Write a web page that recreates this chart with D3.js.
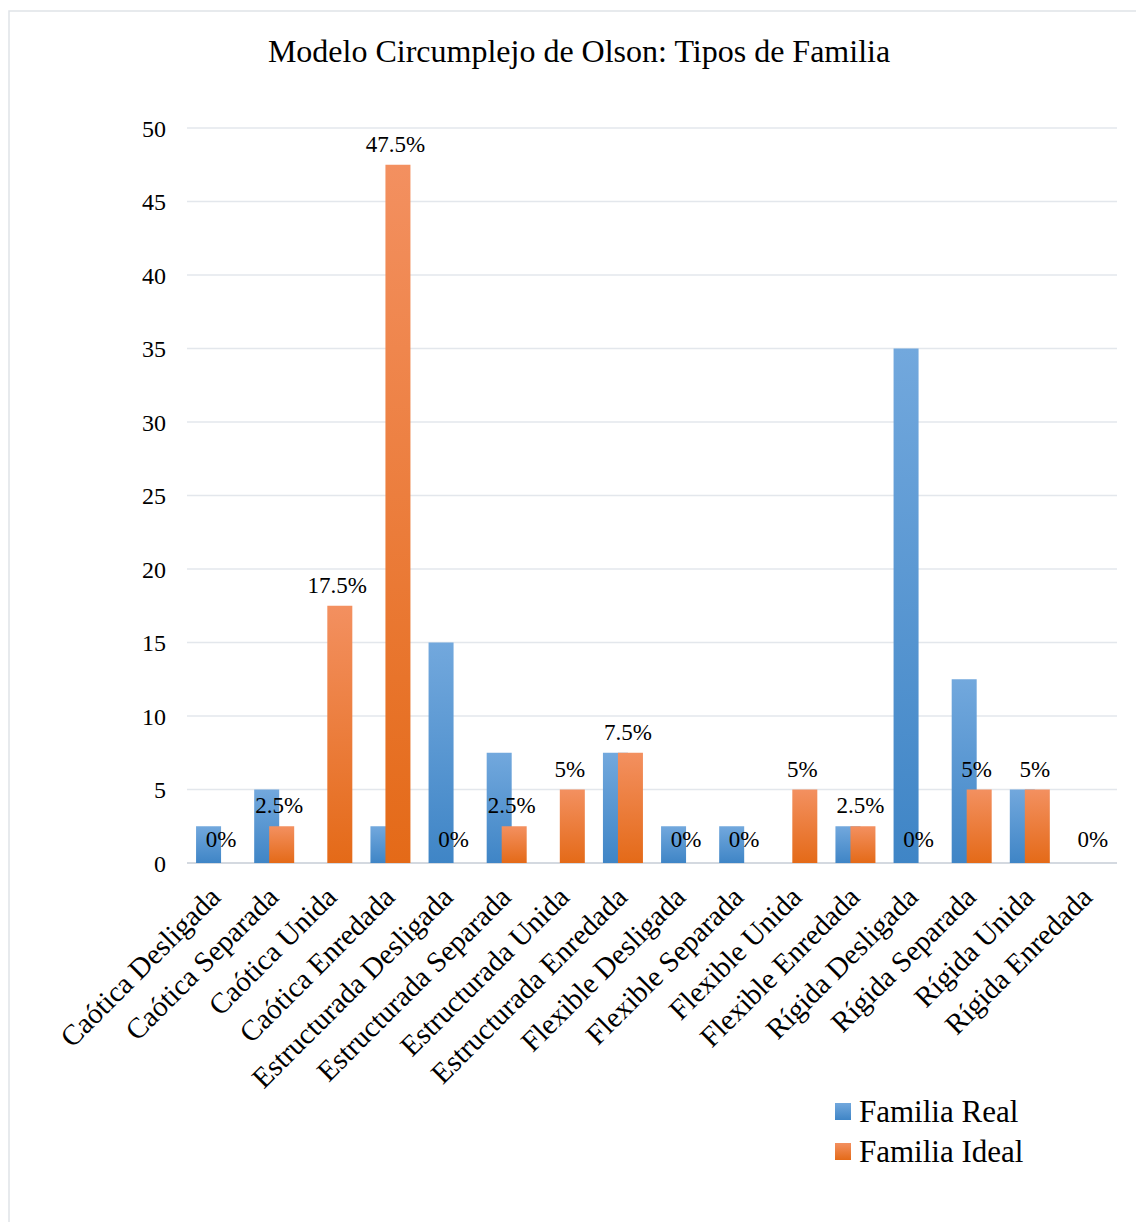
<!DOCTYPE html>
<html>
<head>
<meta charset="utf-8">
<script src="https://cdn.jsdelivr.net/npm/d3@7"></script>
<style>
  html, body { margin: 0; padding: 0; background: #ffffff; }
  svg { display: block; }
  text { font-family: "Liberation Serif", "Times New Roman", serif; fill: #000; }
</style>
</head>
<body>
<script>
// Family types of the Olson circumplex model
const categories = [
  "Caótica Desligada", "Caótica Separada", "Caótica Unida", "Caótica Enredada",
  "Estructurada Desligada", "Estructurada Separada", "Estructurada Unida", "Estructurada Enredada",
  "Flexible Desligada", "Flexible Separada", "Flexible Unida", "Flexible Enredada",
  "Rígida Desligada", "Rígida Separada", "Rígida Unida", "Rígida Enredada"
];
const realValues  = [2.5, 5, 0, 2.5, 15, 7.5, 0, 7.5, 2.5, 2.5, 0, 2.5, 35, 12.5, 5, 0];
const idealValues = [0, 2.5, 17.5, 47.5, 0, 2.5, 5, 7.5, 0, 0, 5, 2.5, 0, 5, 5, 0];
const yTicks = [0, 5, 10, 15, 20, 25, 30, 35, 40, 45, 50];
const seriesNames = ["Familia Real", "Familia Ideal"];
const title = "Modelo Circumplejo de Olson: Tipos de Familia";

const W = 1136, H = 1222;
const plot = { left: 187, right: 1117, top: 128, bottom: 863 };
const barW = 25;

const svg = d3.select("body").append("svg").attr("width", W).attr("height", H);

// gradients for the two series
const defs = svg.append("defs");
function grad(id, top, bottom) {
  const g = defs.append("linearGradient").attr("id", id)
    .attr("x1", 0).attr("y1", 0).attr("x2", 0).attr("y2", 1);
  g.append("stop").attr("offset", "0%").attr("stop-color", top);
  g.append("stop").attr("offset", "100%").attr("stop-color", bottom);
}
grad("gReal", "#72a8dd", "#3f85c6");
grad("gIdeal", "#f39060", "#e46a18");

// chart border
svg.append("rect").attr("x", 9).attr("y", 11).attr("width", W).attr("height", H)
  .attr("fill", "none").attr("stroke", "#dfe3e8").attr("stroke-width", 1.5);

svg.append("text").attr("x", 579).attr("y", 62).attr("text-anchor", "middle")
  .style("font-size", "32px").text(title);

const x = d3.scaleBand().domain(categories).range([plot.left, plot.right]).padding(0);
const y = d3.scaleLinear().domain([0, 50]).range([plot.bottom, plot.top]);

// horizontal gridlines
svg.append("g").selectAll("line").data(yTicks).join("line")
  .attr("x1", plot.left).attr("x2", plot.right)
  .attr("y1", d => y(d)).attr("y2", d => y(d))
  .attr("stroke", d => d === 0 ? "#d4d9e0" : "#e3e7ec").attr("stroke-width", d => d === 0 ? 2 : 1.5);

// y axis labels
const yAxis = d3.axisLeft(y).tickValues(yTicks).tickSize(0).tickPadding(0);
const yg = svg.append("g").attr("transform", `translate(166,0)`).call(yAxis);
yg.select(".domain").remove();
yg.selectAll("text").style("font-size", "24px").attr("font-family", null).attr("fill", "#000")
  .attr("dy", "0.35em");

const cx = c => x(c) + x.bandwidth() / 2;

// bars: real drawn first, ideal overlapping in front of it
svg.append("g").selectAll("rect").data(categories).join("rect")
  .attr("x", c => cx(c) - 20)
  .attr("y", (c, i) => y(realValues[i]))
  .attr("width", barW)
  .attr("height", (c, i) => y(0) - y(realValues[i]))
  .attr("fill", "url(#gReal)");

svg.append("g").selectAll("rect").data(categories).join("rect")
  .attr("x", c => cx(c) - 5)
  .attr("y", (c, i) => y(idealValues[i]))
  .attr("width", barW)
  .attr("height", (c, i) => y(0) - y(idealValues[i]))
  .attr("fill", "url(#gIdeal)");

// value labels of the ideal series
svg.append("g").selectAll("text").data(categories).join("text")
  .attr("x", c => cx(c) + 5)
  .attr("y", (c, i) => y(idealValues[i]) - (idealValues[i] === 0 ? 16 : 13))
  .attr("text-anchor", "middle")
  .style("font-size", "23px")
  .text((c, i) => idealValues[i] + "%");

// rotated category labels
svg.append("g").selectAll("text").data(categories).join("text")
  .attr("transform", c => `translate(${cx(c) + 6},${plot.bottom + 36}) rotate(-45)`)
  .attr("text-anchor", "end")
  .style("font-size", "29px")
  .text(c => c);

// legend
const legend = svg.append("g").attr("transform", "translate(835,1103)");
seriesNames.forEach((name, i) => {
  const g = legend.append("g").attr("transform", `translate(0,${i * 40})`);
  g.append("rect").attr("width", 16).attr("height", 17)
    .attr("fill", i === 0 ? "url(#gReal)" : "url(#gIdeal)");
  g.append("text").attr("x", 24).attr("y", 19).style("font-size", "31px").text(name);
});
</script>
</body>
</html>
